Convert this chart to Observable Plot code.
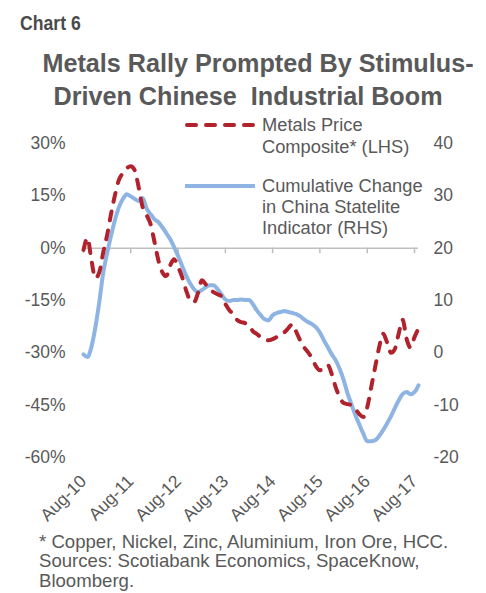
<!DOCTYPE html>
<html><head><meta charset="utf-8">
<script src="https://cdn.jsdelivr.net/npm/d3@7"></script>
<script src="https://cdn.jsdelivr.net/npm/@observablehq/plot@0.6"></script>
<style>
body{margin:0;background:#fff;}
#wrap{position:relative;width:486px;height:593px;overflow:hidden;font-family:"Liberation Sans",Arial,sans-serif;}
#plot{position:absolute;left:0;top:110px;}
#overlay{position:absolute;left:0;top:0;pointer-events:none;}
#overlay text{fill:#595959;font-family:"Liberation Sans",Arial,sans-serif;white-space:pre;}
</style></head><body>
<div id="wrap"><div id="plot"></div>
<svg id="overlay" width="486" height="593">
  <text transform="translate(20,30) scale(0.84,1)" font-size="21" font-weight="bold" style="fill:#4a4a4a">Chart 6</text>
  <text x="258" y="72" font-size="25.2" font-weight="bold" text-anchor="middle">Metals Rally Prompted By Stimulus-</text>
  <text x="248" y="105" font-size="25.2" font-weight="bold" text-anchor="middle" xml:space="preserve">Driven Chinese  Industrial Boom</text>
  <line x1="187" y1="125" x2="255" y2="125" stroke="#B0222C" stroke-width="4" stroke-dasharray="9,10" stroke-linecap="round"/>
  <text x="262" y="131" font-size="18.3">Metals Price</text>
  <text x="262" y="153" font-size="18.3">Composite* (LHS)</text>
  <line x1="185" y1="186" x2="255" y2="186" stroke="#8EB4E3" stroke-width="4"/>
  <text x="262" y="192" font-size="18.3">Cumulative Change</text>
  <text x="262" y="213" font-size="18.3">in China Statelite</text>
  <text x="262" y="234" font-size="18.3">Indicator (RHS)</text>
  <text x="39" y="548" font-size="18.6">* Copper, Nickel, Zinc, Aluminium, Iron Ore, HCC.</text>
  <text x="39" y="567" font-size="18.6">Sources: Scotiabank Economics, SpaceKnow,</text>
  <text x="39" y="587" font-size="18.6">Bloomberg.</text>
</svg></div>
<script>
// Monthly observations, Aug-2010 .. Sep-2017
const startMonth = "2010-08";
const metalsPrice = [ // % (LHS)
  -0.5, 2.9, -3.4, -8.6, -6.9, -1.1, 4.0, 9.7, 15.2, 19.5,
  21.5, 22.9, 23.5, 22.3, 17.5, 11.7, 9.5, 6.9, 1.7, -3.4,
  -6.9, -8.0, -4.9, -3.2, -5.4, -8.3, -12.0, -14.9, -15.5, -12.9,
  -9.2, -10.3, -11.7, -12.6, -13.2, -13.8, -16.0, -17.8, -18.9, -20.6,
  -21.2, -21.5, -22.3, -23.8, -24.6, -25.5, -26.1, -26.4, -26.1, -25.5,
  -24.9, -24.1, -22.9, -21.8, -24.1, -26.4, -28.4, -29.8, -31.5, -33.8,
  -35.0, -34.4, -33.5, -36.1, -39.8, -42.7, -44.4, -44.7, -45.0, -46.1,
  -47.6, -48.4, -45.6, -39.8, -34.1, -28.4, -24.5, -27.0, -30.0, -29.0,
  -24.5, -20.5, -26.0, -28.5, -25.5, -23.0
];
const satelliteIndicator = [ // cumulative change (RHS)
  -0.3, -0.8, 1.1, 4.9, 9.7, 15.4, 19.2, 22.3, 25.4, 27.8,
  29.4, 30.3, 29.9, 29.4, 29.0, 29.6, 27.6, 26.5, 25.5, 25.0,
  24.0, 22.9, 21.7, 20.2, 18.5, 16.6, 14.8, 13.3, 12.2, 11.6,
  12.0, 12.5, 12.9, 12.9, 12.2, 11.2, 10.2, 9.9, 10.1, 10.1,
  10.2, 10.1, 10.1, 9.3, 8.1, 7.2, 6.4, 6.2, 7.2, 7.6,
  7.8, 8.0, 7.8, 7.6, 7.4, 7.0, 6.4, 5.9, 5.5, 4.9,
  3.9, 2.4, 1.1, -0.3, -1.4, -3.1, -5.2, -7.7, -9.8, -11.9,
  -13.7, -15.4, -16.9, -16.9, -16.7, -15.9, -14.8, -13.5, -12.1, -10.6,
  -9.1, -7.9, -7.5, -7.9, -7.5, -6.2
];
const leftTicks = [30, 15, 0, -15, -30, -45, -60];
const rightTicks = [40, 30, 20, 10, 0, -10, -20];
const xTickLabels = ["Aug-10","Aug-11","Aug-12","Aug-13","Aug-14","Aug-15","Aug-16","Aug-17"];

const parseM = d3.utcParse("%Y-%m");
const start = parseM(startMonth);
const dates = metalsPrice.map((_, i) => d3.utcMonth.offset(start, i));
const metalRows = metalsPrice.map((v, i) => ({date: dates[i], v}));
const satRows = satelliteIndicator.map((v, i) => ({date: dates[i], v}));
const xTicks = xTickLabels.map(s => d3.utcParse("%b-%y")(s));
// right axis: 40 <-> 30%, -20 <-> -60%
const rightToLeft = r => (r - 20) * 1.5;
const rightLabel = new Map(rightTicks.map(r => [rightToLeft(r), String(r)]));

const red = "#B0222C", blue = "#8EB4E3", grey = "#595959";
const chart = Plot.plot({
  width: 486, height: 420,
  marginTop: 33, marginBottom: 73, marginLeft: 83, marginRight: 68,
  x: {type: "utc", domain: [dates[0], dates[dates.length - 1]]},
  y: {domain: [-60, 30]},
  style: {fontFamily: "Liberation Sans, Arial, sans-serif", fontSize: "17.5px", color: grey, background: "transparent", overflow: "visible"},
  marks: [
    Plot.ruleY([0], {stroke: "#bfbfbf", strokeWidth: 1.5}),
    Plot.ruleX(xTicks, {x: d => d, y1: 0, y2: -1.6, stroke: "#bfbfbf", strokeWidth: 1.5}),
    Plot.axisY(leftTicks, {anchor: "left", tickSize: 0, tickPadding: 18, tickFormat: d => d + "%", label: null, fill: grey}),
    Plot.axisY(rightTicks.map(rightToLeft), {anchor: "right", tickSize: 0, tickPadding: 15, tickFormat: d => rightLabel.get(d), label: null, fill: grey}),
    Plot.axisX(xTicks, {anchor: "bottom", tickSize: 0, tickPadding: 21, tickRotate: -45, tickFormat: d3.utcFormat("%b-%y"), label: null, fill: grey}),
    Plot.line(satRows, {x: "date", y: d => rightToLeft(d.v), stroke: blue, strokeWidth: 4, curve: "monotone-x"}),
    Plot.line(metalRows, {x: "date", y: "v", stroke: red, strokeWidth: 4, strokeDasharray: "9,10", strokeLinecap: "round", curve: "monotone-x"})
  ]
});
document.getElementById("plot").appendChild(chart);
</script>
</body></html>
